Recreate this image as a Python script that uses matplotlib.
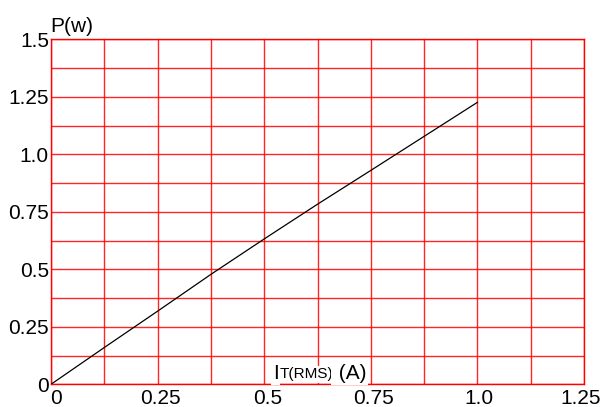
import numpy as np
from matplotlib import pyplot as plt
from matplotlib.ticker import MultipleLocator, FixedLocator
from matplotlib.transforms import ScaledTranslation

plt.rcParams['font.family'] = ['Liberation Sans', 'DejaVu Sans']

# Kurve P(w) ueber I_T(RMS) (A)
current = [0.0, 0.125, 0.25, 0.375, 0.5, 0.625, 0.75, 0.875, 1.0]
power = [0.0, 0.160, 0.318, 0.478, 0.632, 0.783, 0.930, 1.078, 1.226]

x_ticks = [0, 0.25, 0.5, 0.75, 1.0, 1.25]
x_tick_labels = ['0', '0.25', '0.5', '0.75', '1.0', '1.25']
y_ticks = [0, 0.25, 0.5, 0.75, 1.0, 1.25, 1.5]
y_tick_labels = ['0', '0.25', '0.5', '0.75', '1.0', '1.25', '1.5']

FS = 15

fig = plt.figure(figsize=(6.03, 4.07), dpi=100)
ax = fig.add_axes([0.0846, 0.0558, 0.8839, 0.8476])

ax.plot(current, power, color='black', linewidth=0.9, zorder=3)

ax.set_xlim(0, 1.25)
ax.set_ylim(0, 1.5)

# Rasterlinien alle 0.125
ax.xaxis.set_major_locator(FixedLocator(x_ticks))
ax.yaxis.set_major_locator(FixedLocator(y_ticks))
ax.set_xticklabels(x_tick_labels)
ax.set_yticklabels(y_tick_labels)
ax.xaxis.set_minor_locator(MultipleLocator(0.125))
ax.yaxis.set_minor_locator(MultipleLocator(0.125))
ax.grid(True, which='both', color='#ff0000', linewidth=1.0, alpha=0.85)
ax.set_axisbelow(True)
ax.tick_params(which='both', length=0, labelsize=FS, colors='black')
ax.tick_params(axis='x', pad=3.5)
ax.tick_params(axis='y', pad=1.5)
for lbl in ax.get_yticklabels():
    lbl.set_verticalalignment('center_baseline')

# x-Beschriftungen im Original leicht nach rechts versetzt (in Pixel)
x_shift = [5, 3, 3, 3, 2, -3]
for lbl, dx in zip(ax.get_xticklabels(), x_shift):
    lbl.set_transform(lbl.get_transform() + ScaledTranslation(dx / 100, 0, fig.dpi_scale_trans))

for sp in ax.spines.values():
    sp.set_color('#ff0000')
    sp.set_linewidth(1.0)

# Achsenbeschriftungen
ax.text(-0.002, 1.01, 'P(w)', transform=ax.transAxes, ha='left', va='bottom',
        fontsize=FS)

bb = dict(facecolor='white', edgecolor='none', pad=1.0)
t1 = ax.text(0.52, 0.005, 'I', ha='left', va='bottom', fontsize=FS,
             bbox=bb, zorder=4)
t2 = ax.annotate('T(RMS)', xy=(1, 0), xycoords=t1, xytext=(0.5, 1.2),
                 textcoords='offset points', ha='left', va='bottom',
                 fontsize=11, bbox=bb, zorder=4)
t3 = ax.annotate(' (A)', xy=(1, 0), xycoords=t2, xytext=(0, -1.2),
                 textcoords='offset points', ha='left', va='bottom',
                 fontsize=FS, bbox=bb, zorder=4)

plt.savefig('out.png', dpi=100)
